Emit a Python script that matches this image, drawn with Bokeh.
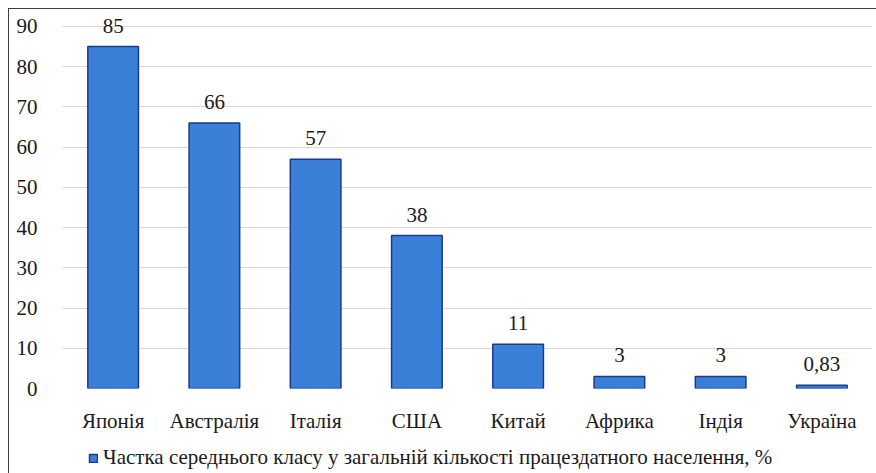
from bokeh.plotting import figure
from bokeh.layouts import column
from bokeh.models import FactorRange, Range1d, FixedTicker, Legend, LegendItem, ColumnDataSource
from bokeh.core.properties import value
from bokeh.embed import file_html
from bokeh.resources import INLINE

countries = ["Японія", "Австралія", "Італія", "США", "Китай", "Африка", "Індія", "Україна"]
shares = [85, 66, 57, 38, 11, 3, 3, 0.83]
share_labels = ["85", "66", "57", "38", "11", "3", "3", "0,83"]
y_ticks = [0, 10, 20, 30, 40, 50, 60, 70, 80, 90]
series_name = "Частка середнього класу у загальній кількості працездатного населення, %"

FONT = "serif"
FS = "21px"
FILL = "#3A80D9"
EDGE = "#1B3A8C"
TXT = "#1a1a1a"

src = ColumnDataSource(dict(x=countries, y=shares, lab=share_labels))

p = figure(width=868, height=431, x_range=FactorRange(*countries, range_padding=0),
           y_range=Range1d(0, 94.2), output_backend="svg", toolbar_location=None,
           min_border_left=53, min_border_right=5, min_border_top=0, min_border_bottom=52)
p.outline_line_color = None

r = p.vbar(x="x", top="y", width=0.5, source=src, fill_color=FILL,
           line_color=EDGE, line_width=1.5)
p.text(x="x", y="y", text="lab", source=src, text_align="center", text_baseline="bottom",
       y_offset=-14, text_font=value(FONT), text_font_size=value(FS), text_color=TXT)

p.yaxis.ticker = FixedTicker(ticks=y_ticks)
p.ygrid.ticker = FixedTicker(ticks=y_ticks)
p.xgrid.grid_line_color = None
p.ygrid.grid_line_color = "#D9D9D9"
p.ygrid.grid_line_width = 1

for ax in (p.xaxis, p.yaxis):
    ax.axis_line_color = None
    ax.major_tick_line_color = None
    ax.minor_tick_line_color = None
    ax.major_label_text_font = FONT
    ax.major_label_text_font_size = FS
    ax.major_label_text_color = TXT
p.yaxis.major_label_standoff = 19
p.xaxis.major_label_standoff = 14

# legend strip below the chart (same series; its renderer is hidden, only the legend shows)
lf = figure(width=868, height=34, output_backend="svg", toolbar_location=None,
            min_border=0, x_range=FactorRange(*countries, range_padding=0),
            y_range=Range1d(-2, -1))
lf.axis.visible = False
lf.grid.visible = False
lf.outline_line_color = None
lr = lf.vbar(x="x", top="y", width=0.5, source=src, fill_color=FILL,
             line_color=EDGE, line_width=1.5)
lr.visible = False
legend = Legend(items=[LegendItem(label=series_name, renderers=[lr])], location=(26, 4),
                glyph_width=10, glyph_height=10, label_standoff=5, padding=0, margin=0,
                border_line_color=None, background_fill_alpha=0,
                inactive_fill_alpha=0,
                label_text_font=FONT, label_text_font_size=FS, label_text_color=TXT)
lf.add_layout(legend, "center")

layout = column(p, lf, spacing=0)
layout.styles = {"margin-left": "8px", "margin-top": "8px",
                 "border-left": "1.5px solid #3f3f3f", "border-top": "1.5px solid #3f3f3f"}

open("out.html", "w").write(file_html(layout, INLINE))
